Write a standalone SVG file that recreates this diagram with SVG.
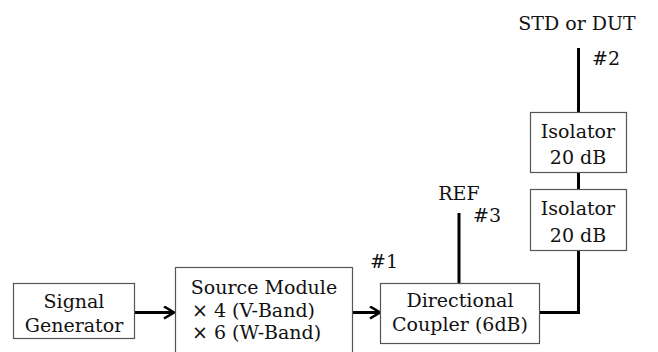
<svg xmlns="http://www.w3.org/2000/svg" width="658" height="352" viewBox="0 0 658 352">
<style>
.box{fill:#fff;stroke:#555;stroke-width:1.2}
.t{font-family:"DejaVu Serif","Liberation Serif",serif;font-size:19px;fill:#111}
.c{text-anchor:middle}
.w{stroke:#000;stroke-width:3;fill:none}
.x{font-family:"DejaVu Sans","Liberation Sans",sans-serif}
</style>
<defs>
<marker id="ah" markerWidth="14" markerHeight="14" refX="11" refY="7" orient="auto" markerUnits="userSpaceOnUse" viewBox="0 0 14 14">
<path d="M1,1 L11,7 L1,13" fill="none" stroke="#000" stroke-width="2.6"/>
</marker>
</defs>
<rect width="658" height="352" fill="#fff"/>
<g id="connectors">
<line class="w" x1="135" y1="312.5" x2="174" y2="312.5" marker-end="url(#ah)"/>
<line class="w" x1="353" y1="312.5" x2="380" y2="312.5" marker-end="url(#ah)"/>
<polyline class="w" points="540,312.5 578.5,312.5 578.5,250"/>
<line class="w" x1="578.5" y1="189" x2="578.5" y2="172"/>
<line class="w" x1="578.5" y1="112" x2="578.5" y2="48"/>
<line class="w" x1="459" y1="283" x2="459" y2="213"/>
</g>
<g id="signal-generator">
<rect class="box" x="13.5" y="283.5" width="121" height="55"/>
<text class="t c" x="74" y="308">Signal</text>
<text class="t c" x="74" y="332">Generator</text>
</g>
<g id="source-module">
<rect class="box" x="175.5" y="267.5" width="177" height="90"/>
<text class="t c" x="264" y="294">Source Module</text>
<text class="t" x="192" y="317"><tspan class="x">×</tspan> 4 (V-Band)</text>
<text class="t" x="192" y="339"><tspan class="x">×</tspan> 6 (W-Band)</text>
</g>
<g id="directional-coupler">
<rect class="box" x="380.5" y="283.5" width="159" height="60"/>
<text class="t c" x="460" y="307">Directional</text>
<text class="t c" x="460" y="331">Coupler (6dB)</text>
</g>
<g id="isolator-1">
<rect class="box" x="530.5" y="112.5" width="96" height="60"/>
<text class="t c" x="578" y="138">Isolator</text>
<text class="t c" x="578" y="164">20 dB</text>
</g>
<g id="isolator-2">
<rect class="box" x="530.5" y="189.5" width="96" height="61"/>
<text class="t c" x="578" y="215">Isolator</text>
<text class="t c" x="578" y="242">20 dB</text>
</g>
<g id="labels">
<text class="t c" x="577" y="30">STD or DUT</text>
<text class="t" x="592" y="65">#2</text>
<text class="t c" x="459" y="200">REF</text>
<text class="t" x="473" y="222">#3</text>
<text class="t" x="370" y="268">#1</text>
</g>
</svg>
